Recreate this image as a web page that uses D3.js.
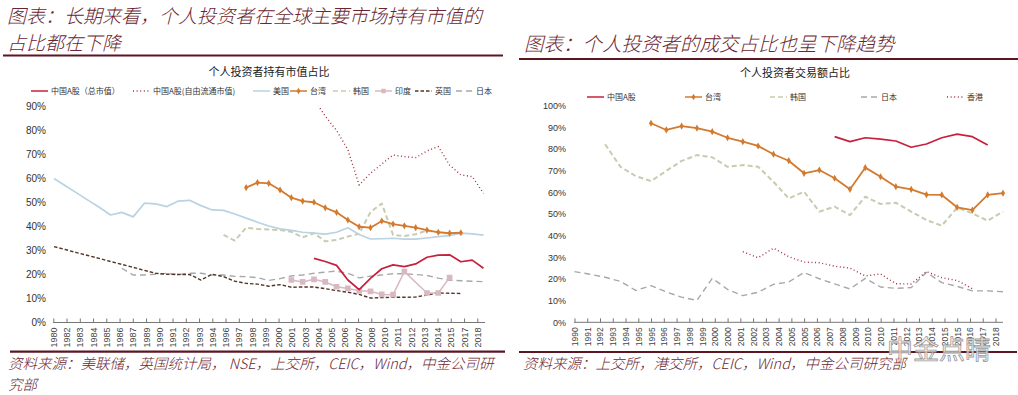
<!DOCTYPE html>
<meta charset="utf-8">

<head>
    <meta charset="utf-8">
    <script src="https://d3js.org/d3.v7.min.js"></script>
    <style>
        body { margin: 0; background: #fff; }
        svg { display: block; }
        .cn { font-family: "Noto Sans CJK SC", sans-serif; }
        .num { font-family: "Liberation Sans", Arial, sans-serif; }
        .head { font-style: italic; font-weight: 300; }
    </style>
</head>

<body>
    <svg width="1018" height="395"></svg>

    <script>
        // ---- left chart data: share of market value held by individuals ----
        var leftYears = [1980, 1981, 1982, 1983, 1984, 1985, 1986, 1987, 1988, 1989,
            1990, 1991, 1992, 1993, 1994, 1995, 1996, 1997, 1998, 1999,
            2000, 2001, 2002, 2003, 2004, 2005, 2006, 2007, 2008, 2009,
            2010, 2011, 2012, 2013, 2014, 2015, 2016, 2017, 2018];
        var cnTotal = [null, null, null, null, null, null, null, null, null, null,
            null, null, null, null, null, null, null, null, null, null,
            null, null, null, 26.7, 25.4, 23.8, 17.7, 13.7, 18.4, 22.4,
            24, 23.3, 24.4, 27.2, 28.1, 28.2, 25.3, 26, 22.6];
        var cnFloat = [null, null, null, null, null, null, null, null, null, null,
            null, null, null, null, null, null, null, null, null, null,
            null, null, null, 93, 86, 80, 72, 57.3, 62.2, 66,
            69.8, 69.1, 68.7, 71.5, 73.3, 65.6, 61.5, 60.8, 53.8];
        var usHold = [60, 57, 54, 51, 48, 44.8, 45.9, 44, 49.7, 49.4,
            48.3, 50.6, 50.9, 48.7, 46.9, 46.7, 45.2, 43.5, 41.8, 40.2,
            39, 38.4, 37.6, 37.2, 36.8, 37.6, 39.5, 36.7, 34.8, 34.9,
            35.1, 34.7, 34.7, 35.2, 35.8, 36.2, 37.2, 36.9, 36.4];
        var twHold = [null, null, null, null, null, null, null, null, null, null,
            null, null, null, null, null, null, null, 56.2, 58.3, 58,
            55.2, 52, 50.6, 50.1, 47.8, 45.9, 42.7, 39.9, 39.5, 42.3,
            41, 40.3, 39.5, 38.5, 37.6, 37.2, 37.4, null, null];
        var krHold = [null, null, null, null, null, null, null, null, null, null,
            null, null, null, null, null, 36.5, 34.1, 39.5, 39, 38.7,
            38.5, 37.8, 35.5, 37.2, 33.8, 34.4, 35.8, 37, 46, 49.6,
            36.5, 36, 36.8, 38.3, 37.6, 37, 37.2, null, null];
        var inHold = [null, null, null, null, null, null, null, null, null, null,
            null, null, null, null, null, null, null, null, null, null,
            null, 17.7, 16.9, 18, 16.9, 14.9, 14.2, 13.2, 13, 11.7,
            11.6, 21.2, null, 12.3, 12.3, 18.7, null, null, null];
        var ukHold = [31.6, 30.4, 29.1, 27.9, 26.7, 25.4, 24.2, 23, 21.7, 20.5,
            20.1, 20, 20, 17.7, 20.1, 19.1, 17.2, 16.3, 16, 15.1,
            15.8, 14.7, 14.8, 14.8, 14.1, 13.3, 12.6, 11.7, 10.2, 10.4,
            10.5, 10.5, 10.6, 11.5, 12.3, 12.2, 12.1, null, null];
        var jpHold = [null, null, null, null, null, null, 22.6, 19.8, 19.8, 20.1,
            20.5, 20, 20.5, 20.5, 19.8, 19.8, 19.2, 19.1, 18.7, 17.5,
            18.3, 19.4, 19.8, 20.5, 21, 21.4, 20.5, 18.6, 19.3, 19.8,
            20.3, 20.3, 20, 19.6, 18.5, 17.6, 17.4, 17.2, 17];
        var leftTicks = ["1980", "1982", "1983", "1984", "1985", "1986", "1987", "1989", "1990", "1991",
            "1992", "1993", "1994", "1996", "1997", "1998", "1999", "2000", "2001", "2003",
            "2004", "2005", "2006", "2007", "2008", "2010", "2011", "2012", "2013", "2014",
            "2015", "2017", "2018"];
        var leftYTicks = [0, 10, 20, 30, 40, 50, 60, 70, 80, 90];

        // ---- right chart data: share of turnover by individuals ----
        var rightYears = [1990, 1991, 1992, 1993, 1994, 1995, 1996, 1997, 1998, 1999,
            2000, 2001, 2002, 2003, 2004, 2005, 2006, 2007, 2008, 2009,
            2010, 2011, 2012, 2013, 2014, 2015, 2016, 2017, 2018];
        var cnTrade = [null, null, null, null, null, null, null, null, null, null,
            null, null, null, null, null, null, null, 85.7, 83.4, 85.2,
            84.6, 83.7, 80.8, 82.3, 85.2, 86.9, 85.7, 81.9, null];
        var twTrade = [null, null, null, null, null, 91.9, 88.8, 90.6, 89.6, 88,
            85.2, 83.4, 81.4, 77.6, 74.6, 68.8, 70.3, 66.5, 61.4, 71.4,
            67.2, 62.6, 61.4, 58.9, 58.8, 53.1, 51.8, 58.8, 59.6];
        var krTrade = [null, null, 82.2, 71.8, 67.5, 65.2, 69.9, 74.5, 77.2, 76.2,
            71.8, 72.6, 71.8, 64.9, 57.2, 60.3, 51.1, 53.4, 49.5, 58,
            54.6, 55.2, 51.1, 47.2, 44.6, 52.9, 50.3, 46.9, 51.1];
        var jpTrade = [23.4, 22.2, 20.8, 18.9, 14.7, 16.9, 14, 11.6, 10.1, 20.3,
            15.2, 12.3, 13.9, 17.5, 18.6, 23, 20.1, 17.7, 15.4, 20.3,
            16.3, 15.7, 16, 23.1, 18.3, 16.6, 14.5, 14.5, 14.1];
        var hkTrade = [null, null, null, null, null, null, null, null, null, null,
            null, 32.6, 29.8, 34.2, 30.3, 27.8, 27.5, 25.9, 25, 21.4,
            22.3, 17.8, 17.7, 23.4, 20.6, 19.3, 15.5, null, null];
        var rightTicks = ["1990", "1991", "1992", "1993", "1994", "1995", "1995", "1996", "1997", "1998",
            "1999", "2000", "2000", "2001", "2002", "2003", "2004", "2005", "2005", "2006",
            "2007", "2008", "2009", "2010", "2010", "2011", "2012", "2013", "2014", "2015",
            "2015", "2016", "2017", "2018"];
        var rightYTicks = [0, 10, 20, 30, 40, 50, 60, 70, 80, 90, 100];

        var svg = d3.select("svg");
        var headColor = "#6b2530";
        var ruleColor = "#5c1622";

        // styles for each line
        var S = {
            cn: { color: "#c8203c", width: 1.7, dash: null },
            cnf: { color: "#a3303f", width: 1.4, dash: "1,2.6" },
            us: { color: "#b9d3e2", width: 1.7, dash: null },
            tw: { color: "#d37a2e", width: 1.8, dash: null, marker: "diamond" },
            kr: { color: "#c9cbb0", width: 2, dash: "5,3" },
            ind: { color: "#d9b9c1", width: 1.5, dash: null, marker: "square" },
            uk: { color: "#553626", width: 1.4, dash: "3.5,2" },
            jp: { color: "#a8a8a8", width: 1.4, dash: "6,4" }
        };

        function toPoints(years, vals) {
            return years.map(function (yr, i) { return { yr: yr, v: vals[i] }; })
                .filter(function (d) { return d.v != null; });
        }

        function drawSeries(g, x, y, years, vals, st) {
            var pts = toPoints(years, vals);
            var line = d3.line()
                .x(function (d) { return x(d.yr); })
                .y(function (d) { return y(d.v); });
            g.append("path")
                .datum(pts)
                .attr("fill", "none")
                .attr("stroke", st.color)
                .attr("stroke-width", st.width)
                .attr("stroke-dasharray", st.dash)
                .attr("stroke-linejoin", "round")
                .attr("d", line);
            if (st.marker) {
                var sym = d3.symbol()
                    .type(st.marker == "square" ? d3.symbolSquare : d3.symbolDiamond)
                    .size(st.marker == "square" ? 32 : 15);
                g.selectAll(null)
                    .data(pts)
                    .enter().append("path")
                    .attr("transform", function (d) { return "translate(" + x(d.yr) + "," + y(d.v) + ")"; })
                    .attr("d", sym)
                    .attr("fill", st.color);
            }
        }

        function legendItem(g, lx, ly, label, st) {
            g.append("line")
                .attr("x1", lx).attr("x2", lx + 17)
                .attr("y1", ly).attr("y2", ly)
                .attr("stroke", st.color)
                .attr("stroke-width", Math.min(st.width, 1.5))
                .attr("stroke-dasharray", st.dash);
            if (st.marker) {
                g.append("path")
                    .attr("transform", "translate(" + (lx + 8.5) + "," + ly + ")")
                    .attr("d", d3.symbol().type(st.marker == "square" ? d3.symbolSquare : d3.symbolDiamond)
                        .size(st.marker == "square" ? 20 : 13))
                    .attr("fill", st.color);
            }
            g.append("text")
                .attr("class", "cn")
                .attr("x", lx + 20)
                .attr("y", ly)
                .attr("dy", "0.35em")
                .style("font-size", "8px")
                .style("fill", "#333")
                .text(label);
        }

        function xAxis(g, tickLabels, t0, t1, axisX0, axisX1, axisY, fontSize) {
            var ts = d3.scalePoint().domain(d3.range(tickLabels.length)).range([t0, t1]);
            var ax = g.append("g")
                .attr("class", "num")
                .attr("transform", "translate(0," + axisY + ")")
                .call(d3.axisBottom(ts).tickSize(-4).tickFormat(function (i) { return tickLabels[i]; }));
            ax.select(".domain").remove();
            ax.selectAll("line").attr("stroke", "#777");
            ax.selectAll("text")
                .attr("transform", "rotate(-90)")
                .attr("x", -5)
                .attr("y", 0)
                .attr("dy", "0.35em")
                .style("text-anchor", "end")
                .style("font-size", fontSize + "px")
                .style("fill", "#444");
            g.append("line")
                .attr("x1", axisX0).attr("x2", axisX1)
                .attr("y1", axisY).attr("y2", axisY)
                .attr("stroke", "#777");
        }

        function yAxis(g, y, vals, xPos, fontSize) {
            var ay = g.append("g")
                .attr("class", "num")
                .attr("transform", "translate(" + xPos + ",0)")
                .call(d3.axisLeft(y).tickValues(vals).tickSize(0).tickPadding(0)
                    .tickFormat(function (d) { return d + "%"; }));
            ay.select(".domain").remove();
            ay.selectAll("text").style("font-size", fontSize + "px").style("fill", "#333");
        }

        // ================= LEFT =================
        //header, two lines
        var head = svg.append("g").attr("class", "cn head").style("fill", headColor)
            .style("font-size", "19px");
        head.append("text").attr("x", 7).attr("y", 22.5)
            .text("图表：长期来看，个人投资者在全球主要市场持有市值的");
        head.append("text").attr("x", 7).attr("y", 50.2)
            .text("占比都在下降");
        svg.append("line").attr("x1", 3).attr("x2", 503).attr("y1", 55.5).attr("y2", 55.5)
            .attr("stroke", ruleColor).attr("stroke-width", 2.2);

        var xL = d3.scaleLinear().domain([1980, 2018]).range([54, 483.5]);
        var yL = d3.scaleLinear().domain([0, 90]).range([322.5, 106.5]);

        svg.append("text").attr("class", "cn")
            .attr("x", 269).attr("y", 76)
            .style("text-anchor", "middle").style("font-size", "11px").style("fill", "#222")
            .text("个人投资者持有市值占比");

        var legL = svg.append("g");
        legendItem(legL, 31, 91, "中国A股（总市值）", S.cn);
        legendItem(legL, 133, 91, "中国A股(自由流通市值)", S.cnf);
        legendItem(legL, 253, 91, "美国", S.us);
        legendItem(legL, 290, 91, "台湾", S.tw);
        legendItem(legL, 333, 91, "韩国", S.kr);
        legendItem(legL, 375, 91, "印度", S.ind);
        legendItem(legL, 415, 91, "英国", S.uk);
        legendItem(legL, 456, 91, "日本", S.jp);

        yAxis(svg, yL, leftYTicks, 46, 10);
        xAxis(svg, leftTicks, 53.3, 477.3, 53, 485, 322.5, 9);

        svg.append("clipPath").attr("id", "clipL")
            .append("rect").attr("x", 40).attr("y", yL(90)).attr("width", 460).attr("height", yL(0) - yL(90) + 5);
        var gL = svg.append("g").attr("clip-path", "url(#clipL)");
        drawSeries(gL, xL, yL, leftYears, jpHold, S.jp);
        drawSeries(gL, xL, yL, leftYears, ukHold, S.uk);
        drawSeries(gL, xL, yL, leftYears, inHold, S.ind);
        drawSeries(gL, xL, yL, leftYears, krHold, S.kr);
        drawSeries(gL, xL, yL, leftYears, usHold, S.us);
        drawSeries(gL, xL, yL, leftYears, twHold, S.tw);
        drawSeries(gL, xL, yL, leftYears, cnTotal, S.cn);
        drawSeries(gL, xL, yL, leftYears, cnFloat, S.cnf);

        svg.append("line").attr("x1", 10).attr("x2", 505).attr("y1", 351.7).attr("y2", 351.7)
            .attr("stroke", ruleColor).attr("stroke-width", 2.2);
        var srcL = svg.append("g").attr("class", "cn head").style("fill", headColor)
            .style("font-size", "14.5px");
        srcL.append("text").attr("x", 8).attr("y", 369).text("资料来源：美联储，英国统计局， NSE，上交所，CEIC，Wind，中金公司研");
        srcL.append("text").attr("x", 8).attr("y", 390).text("究部");

        // ================= RIGHT =================
        svg.append("text").attr("class", "cn head").style("fill", headColor)
            .attr("x", 524).attr("y", 51).style("font-size", "19.5px")
            .text("图表：个人投资者的成交占比也呈下降趋势");
        svg.append("line").attr("x1", 519).attr("x2", 1018).attr("y1", 59).attr("y2", 59)
            .attr("stroke", ruleColor).attr("stroke-width", 2.2);

        var xR = d3.scaleLinear().domain([1990, 2018]).range([574.5, 1003]);
        var yR = d3.scaleLinear().domain([0, 100]).range([322.3, 105.7]);

        svg.append("text").attr("class", "cn")
            .attr("x", 795).attr("y", 77)
            .style("text-anchor", "middle").style("font-size", "11px").style("fill", "#222")
            .text("个人投资者交易额占比");

        var legR = svg.append("g");
        legendItem(legR, 587, 97, "中国A股", S.cn);
        legendItem(legR, 685, 97, "台湾", S.tw);
        legendItem(legR, 770, 97, "韩国", S.kr);
        legendItem(legR, 861, 97, "日本", S.jp);
        legendItem(legR, 947, 97, "香港", S.cnf);

        yAxis(svg, yR, rightYTicks, 566, 9);
        xAxis(svg, rightTicks, 574.5, 995.5, 574, 1003, 322.3, 8.5);

        var gR = svg.append("g");
        drawSeries(gR, xR, yR, rightYears, jpTrade, S.jp);
        drawSeries(gR, xR, yR, rightYears, hkTrade, S.cnf);
        drawSeries(gR, xR, yR, rightYears, krTrade, S.kr);
        drawSeries(gR, xR, yR, rightYears, twTrade, S.tw);
        drawSeries(gR, xR, yR, rightYears, cnTrade, S.cn);

        svg.append("line").attr("x1", 519).attr("x2", 1017).attr("y1", 352).attr("y2", 352)
            .attr("stroke", ruleColor).attr("stroke-width", 2.2);
        svg.append("text").attr("class", "cn head").style("fill", headColor)
            .style("font-size", "14.5px")
            .attr("x", 523).attr("y", 369)
            .text("资料来源：上交所，港交所，CEIC，Wind，中金公司研究部");

        // watermark
        svg.append("text").attr("class", "cn")
            .attr("x", 887).attr("y", 359)
            .style("font-size", "26px")
            .style("fill", "#fff").style("fill-opacity", 0.75)
            .style("stroke", "#999").style("stroke-width", 0.8)
            .text("中金点睛");
    </script>
</body>

</html>
